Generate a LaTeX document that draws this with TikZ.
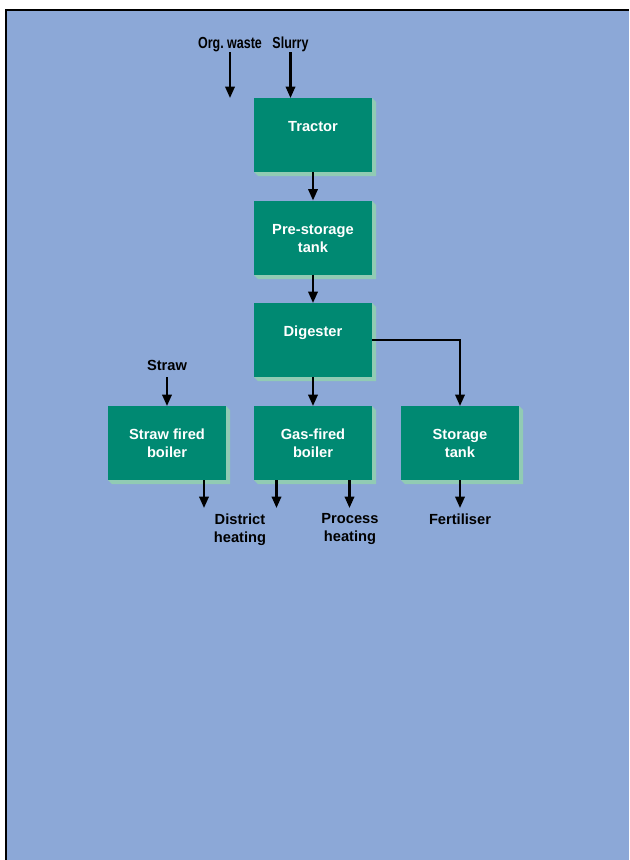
\documentclass[tikz,border=0pt]{standalone}
\usepackage{fontspec}
\setmainfont{Liberation Sans}
\newfontfamily\narrowsans[FakeStretch=0.78]{Liberation Sans}
\usetikzlibrary{arrows.meta}
\definecolor{bgblue}{RGB}{140,168,215}
\definecolor{boxgreen}{RGB}{0,137,114}
\definecolor{shadowgreen}{RGB}{145,203,180}
\begin{document}
\begin{tikzpicture}[x=0.75pt,y=-0.75pt,
  box/.style={draw=none,fill=boxgreen,minimum width=88.5pt,minimum height=55.5pt,inner sep=0pt,outer sep=0pt},
  boxtext/.style={anchor=north,inner sep=0pt,text=white,font=\bfseries\fontsize{11pt}{13.5pt}\selectfont,align=center},
  lbl/.style={anchor=north,inner sep=0pt,text=black,font=\bfseries\fontsize{11pt}{13.5pt}\selectfont,align=center},
  toplbl/.style={anchor=base,inner sep=0pt,text=black,font=\narrowsans\bfseries\fontsize{12pt}{14pt}\selectfont},
  flow/.style={line width=1.7pt,-{Triangle[width=7pt,length=8.5pt]}},
  plain/.style={line width=1.7pt}]
\useasboundingbox (0,0) rectangle (629,860);
\fill[white] (0,0) rectangle (629,860);
\fill[bgblue] (6,10) rectangle (629,860);
\draw[line width=1.5pt] (6,860) -- (6,10) -- (629,10);
% shadows
\foreach \l/\t in {254/98,254/201,254/303,108/406,254/406,401/406}{
  \fill[shadowgreen] (\l+118,\t) -- (\l+122,\t+4) -- (\l+122,\t+78) -- (\l+4,\t+78) -- (\l,\t+74) -- cycle;
}
% boxes
\node[box] (tractor) at (313,135) {};
\node[box] (pre) at (313,237.5) {};
\node[box] (dig) at (313,340) {};
\node[box] (straw) at (167,443) {};
\node[box] (gas) at (313,443) {};
\node[box] (stor) at (460,443) {};
\node[boxtext] (ttractor) at (313,121) {Tractor};
\node[boxtext] (tpre) at (313,224) {Pre-storage\\tank};
\node[boxtext] (tdig) at (313,326) {Digester};
\node[boxtext] (tstraw) at (167,429) {Straw fired\\boiler};
\node[boxtext] (tgas) at (313,429) {Gas-fired\\boiler};
\node[boxtext] (tstor) at (460,429) {Storage\\tank};
% labels
\node[toplbl] (org) at (230,48) {Org.\ waste};
\node[toplbl] (slurry) at (290.5,48) {Slurry};
\node[lbl] (strawl) at (167,359.5) {Straw};
\node[lbl] (district) at (240,513.5) {District\\heating};
\node[lbl] (process) at (350,513.5) {Process\\heating};
\node[lbl] (fert) at (460,513.5) {Fertiliser};
% free ends
\coordinate (orgs) at (230,52);
\coordinate (slus) at (290.5,52);
\coordinate (straws) at (167,377);
\coordinate (d1) at (204,508);
\coordinate (d2) at (276.5,508);
\coordinate (p1) at (349.5,508);
\coordinate (f1) at (460,508);
% arrows
\draw[flow] (orgs) -- (orgs |- tractor.north);
\draw[flow] (slus) -- (slus |- tractor.north);
\draw[flow] (tractor.south) -- (pre.north);
\draw[flow] (pre.south) -- (dig.north);
\draw[flow] (dig.south) -- (gas.north);
\draw[flow] (dig.east) -| (stor.north);
\draw[flow] (straws) -- (straw.north);
\draw[flow] (d1 |- straw.south) -- (d1);
\draw[flow] (d2 |- gas.south) -- (d2);
\draw[flow] (p1 |- gas.south) -- (p1);
\draw[flow] (stor.south) -- (f1);
\end{tikzpicture}
\end{document}
